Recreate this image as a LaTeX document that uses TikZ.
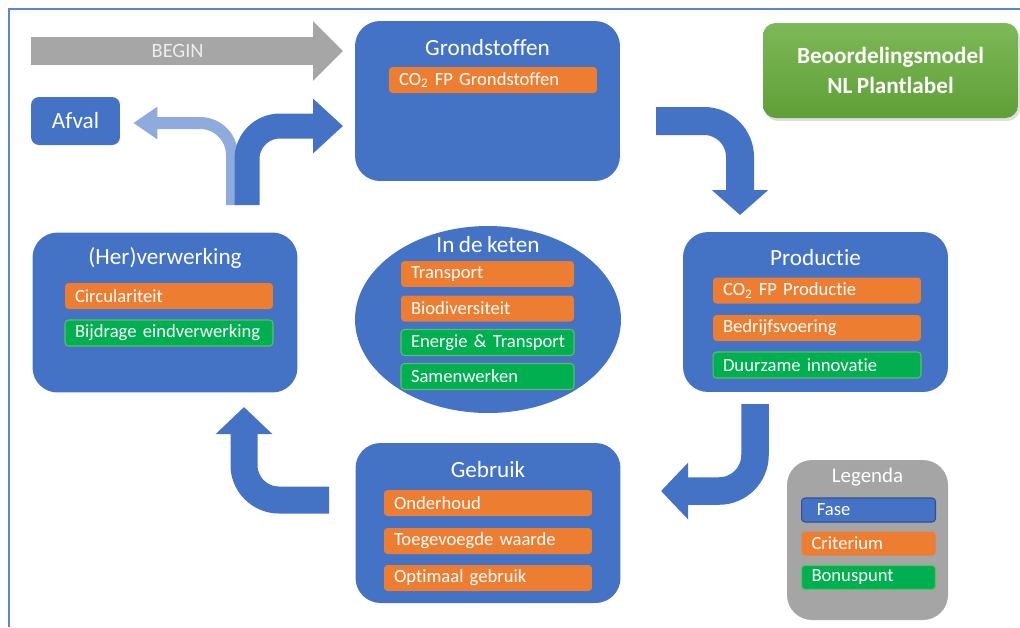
\documentclass[tikz,border=0pt]{standalone}
\usepackage{fontspec}
\setmainfont[Ligatures=NoCommon,WordSpace=0.85]{Carlito}
\usepackage{tikz}
\usetikzlibrary{arrows.meta}
\usetikzlibrary{shapes.geometric}
\usetikzlibrary{shadows}
\definecolor{faseblue}{HTML}{4472C4}
\definecolor{fasedark}{HTML}{2F528F}
\definecolor{critorange}{HTML}{ED7D31}
\definecolor{bonusgreen}{HTML}{00B050}
\definecolor{bonusedge}{HTML}{5CBF62}
\definecolor{legendgray}{HTML}{A5A5A5}
\definecolor{begingray}{HTML}{A6A6A6}
\definecolor{lightflow}{HTML}{8FAADC}
\definecolor{framecol}{HTML}{5B87D2}
\definecolor{modeltop}{HTML}{7DB957}
\definecolor{modelbot}{HTML}{5F9F37}
\newcommand{\titlefont}{\fontsize{13.2}{15.8}\selectfont}
\newcommand{\itemfont}{\fontsize{10.6}{12.7}\selectfont}
\tikzset{
  crit/.style={rectangle,rounded corners=2pt,fill=critorange,text=white,font=\itemfont,
    text width=#1,minimum height=0.52cm,align=left,inner xsep=0.2cm,inner ysep=0pt},
  crit/.default=3.76cm,
  bonus/.style={crit=#1,fill=bonusgreen,draw=bonusedge,line width=0.6pt},
  bonus/.default=3.76cm,
  flow/.style={faseblue,line width=#1},
}
\newcommand{\fasenode}{\node[rectangle,rounded corners=0.5cm,fill=faseblue,minimum width=5.3cm,minimum height=3.2cm]}
\newcommand{\titlenode}{\node[text=white,font=\titlefont]}

\begin{document}
\begin{tikzpicture}[x=0.02cm,y=-0.02cm]
\useasboundingbox (0,0) rectangle (1020,627);
% frame
\draw[framecol,line width=0.05cm] (1020,9) -- (9,9) -- (9,627);

% fasen
\fasenode (grond) at (487.5,101) {};
\titlenode (grondtitle) at (487.5,48) {Grondstoffen};
\node[crit] (co2grond) at (493,80) {CO\textsubscript{2} FP Grondstoffen};

\fasenode (prod) at (815.5,312) {};
\titlenode (prodtitle) at (815.5,258) {Productie};
\node[crit] (co2prod) at (817,290.5) {CO\textsubscript{2} FP Productie};
\node[crit] (bedrijf) at (817,328) {Bedrijfsvoering};
\node[bonus] (innovatie) at (817,365) {Duurzame innovatie};

\fasenode (gebruik) at (488,523) {};
\titlenode (gebruiktitle) at (488,470) {Gebruik};
\node[crit] (onderhoud) at (488,503) {Onderhoud};
\node[crit] (waarde) at (488,541) {Toegevoegde waarde};
\node[crit] (optimaal) at (488,578) {Optimaal gebruik};

\fasenode (herv) at (165,312.5) {};
\titlenode (hervtitle) at (165,258) {(Her)verwerking};
\node[crit] (circ) at (169,296) {Circulariteit};
\node[bonus] (eindverw) at (169,333) {Bijdrage eindverwerking};

% keten
\node[ellipse,fill=faseblue,minimum width=5.32cm,minimum height=3.74cm,inner sep=0pt] (keten) at (488,319.5) {};
\titlenode (ketentitle) at (488,245) {In de keten};
\node[crit=3.06cm] (transport) at (487.5,274) {Transport};
\node[crit=3.06cm] (biodiv) at (487.5,308.5) {Biodiversiteit};
\node[bonus=3.06cm] (energie) at (487.5,342.5) {\mbox{Energie \& Transport}};
\node[bonus=3.06cm] (samen) at (487.5,376.5) {Samenwerken};

\node[rectangle,rounded corners=0.16cm,fill=faseblue,minimum width=1.78cm,minimum height=0.96cm,text=white,font=\titlefont] (afval) at (75.5,121) {Afval};

\node[rectangle,rounded corners=0.25cm,top color=modeltop,bottom color=modelbot,minimum width=5.1cm,minimum height=1.9cm,
  align=center,text=white,font=\titlefont\bfseries,drop shadow={opacity=0.25,shadow xshift=0.04cm,shadow yshift=-0.06cm}]
  (model) at (890.5,70.5) {Beoordelingsmodel\\[1pt]NL Plantlabel};

% legenda
\node[rectangle,rounded corners=0.5cm,fill=legendgray,minimum width=3.22cm,minimum height=3.2cm] (legenda) at (867.5,540) {};
\node[text=white,font=\fontsize{11.9}{14}\selectfont] (legendatitle) at (867.5,477) {Legenda};
\node[crit=2.28cm,fill=faseblue,draw=fasedark,line width=0.6pt,minimum height=0.48cm] (lfase) at (868.5,510) {\hspace{3pt}Fase};
\node[crit=2.28cm,minimum height=0.48cm] (lcrit) at (868.5,543.5) {Criterium};
\node[bonus=2.28cm,minimum height=0.48cm] (lbonus) at (868.5,577.5) {Bonuspunt};

% pijlen
\coordinate (beginstart) at (31,51);
\coordinate (beginend) at (343,51);
\draw[begingray,line width=0.56cm,-{Triangle[length=0.6cm,width=1.16cm]}] (beginstart) -- (beginend)
  node[pos=0.47,text=white!93!black,font=\fontsize{11.6}{14}\selectfont] (beginlbl) {BEGIN};

\coordinate (splitlight) at (232,205);
\draw[lightflow,line width=0.24cm,rounded corners=0.64cm,-{Triangle[length=0.48cm,width=0.62cm]}]
  (splitlight) |- ([xshift=0.26cm,yshift=-0.04cm]afval.east);

\coordinate (splitdark) at (247,205);
\coordinate (grondin) at (343,126);
\draw[flow=0.5cm,rounded corners=0.66cm,-{Triangle[length=0.6cm,width=1.06cm]}] (splitdark) |- (grondin);

\coordinate (grondout) at (656,121);
\coordinate (prodin) at (740,215);
\draw[flow=0.56cm,rounded corners=0.72cm,-{Triangle[length=0.5cm,width=1.1cm]}] (grondout) -| (prodin);

\coordinate (prodout) at (755,404);
\coordinate (gebruikin) at (661,491);
\draw[flow=0.55cm,rounded corners=0.72cm,-{Triangle[length=0.54cm,width=1.1cm]}] (prodout) |- (gebruikin);

\coordinate (gebruikout) at (329,500);
\coordinate (hervin) at (244,407);
\draw[flow=0.54cm,rounded corners=0.7cm,-{Triangle[length=0.54cm,width=1.1cm]}] (gebruikout) -| (hervin);
\end{tikzpicture}
\end{document}
